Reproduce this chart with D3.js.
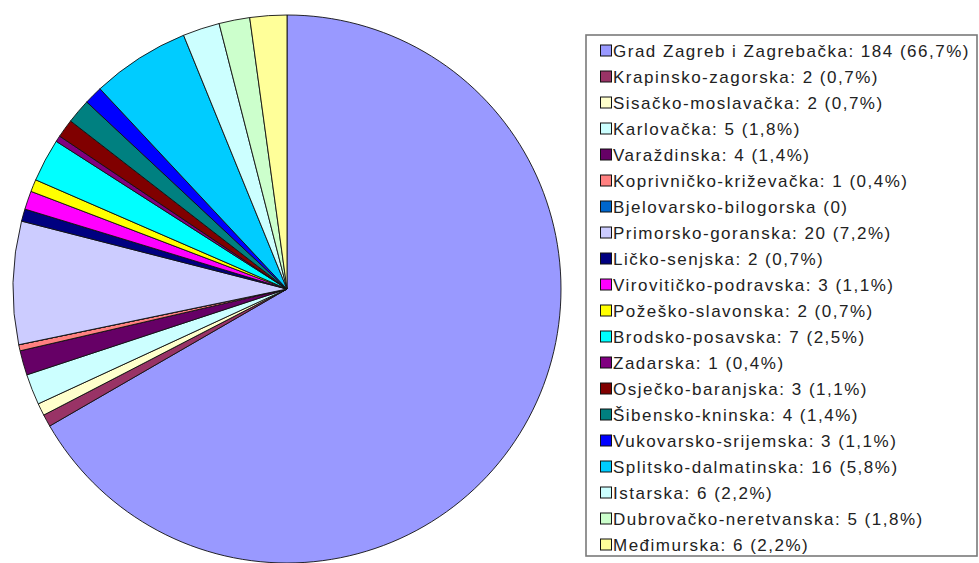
<!DOCTYPE html>
<html>
<head>
<meta charset="utf-8">
<script src="https://cdn.jsdelivr.net/npm/d3@7"></script>
<style>
  body { margin: 0; background: #fff; }
  svg { display: block; }
</style>
</head>
<body>
<div id="chart"></div>
<script>
// counties (legend order = slice order, clockwise from 12 o'clock)
const counties = [
    "Grad Zagreb i Zagrebačka", "Krapinsko-zagorska", "Sisačko-moslavačka", "Karlovačka",
    "Varaždinska", "Koprivničko-križevačka", "Bjelovarsko-bilogorska", "Primorsko-goranska",
    "Ličko-senjska", "Virovitičko-podravska", "Požeško-slavonska", "Brodsko-posavska",
    "Zadarska", "Osječko-baranjska", "Šibensko-kninska", "Vukovarsko-srijemska",
    "Splitsko-dalmatinska", "Istarska", "Dubrovačko-neretvanska", "Međimurska"
];
const counts = [184, 2, 2, 5, 4, 1, 0, 20, 2, 3, 2, 7, 1, 3, 4, 3, 16, 6, 5, 6];
const percents = ["66,7%", "0,7%", "0,7%", "1,8%", "1,4%", "0,4%", "", "7,2%", "0,7%", "1,1%",
    "0,7%", "2,5%", "0,4%", "1,1%", "1,4%", "1,1%", "5,8%", "2,2%", "1,8%", "2,2%"];
const colors = [
    "#9999ff", "#993366", "#ffffcc", "#ccffff", "#660066", "#ff8080", "#0066cc", "#ccccff",
    "#000080", "#ff00ff", "#ffff00", "#00ffff", "#800080", "#800000", "#008080", "#0000ff",
    "#00ccff", "#ccffff", "#ccffcc", "#ffff99"
];

const width = 979, height = 563;
const cx = 287, cy = 289, radius = 274;

const svg = d3.select("#chart").append("svg")
    .attr("width", width)
    .attr("height", height);

const data = counties.map((name, i) => ({ name, value: counts[i], color: colors[i], pct: percents[i] }));

const pie = d3.pie()
    .sort(null)
    .value(d => d.value);

const arc = d3.arc()
    .innerRadius(0)
    .outerRadius(radius);

const g = svg.append("g")
    .attr("transform", `translate(${cx},${cy})`);

g.selectAll("path")
    .data(pie(data))
    .join("path")
    .attr("d", arc)
    .style("fill", d => d.data.color)
    .style("stroke", "#111")
    .style("stroke-width", 0.9)
    .style("stroke-linejoin", "round");

// legend
const legX = 586, legY = 35, legW = 391, legH = 521;
const rowStep = 26, firstRow = 50.5;

svg.append("rect")
    .attr("x", legX)
    .attr("y", legY)
    .attr("width", legW)
    .attr("height", legH)
    .style("fill", "#fff")
    .style("stroke", "#7a7a7a")
    .style("stroke-width", 1.6);

const rows = svg.append("g").selectAll("g")
    .data(data)
    .join("g")
    .attr("transform", (d, i) => `translate(0,${firstRow + i * rowStep})`);

rows.append("rect")
    .attr("x", 600.5)
    .attr("y", -5.5)
    .attr("width", 11)
    .attr("height", 11)
    .style("fill", d => d.color)
    .style("stroke", "#111")
    .style("stroke-width", 1);

rows.append("text")
    .attr("x", 613)
    .attr("y", 6)
    .style("font-family", "'Liberation Sans', Arial, sans-serif")
    .style("font-size", "17px")
    .style("letter-spacing", "1.5px")
    .style("fill", "#222")
    .text(d => d.value > 0 ? `${d.name}: ${d.value} (${d.pct})` : `${d.name} (0)`);
</script>
</body>
</html>
